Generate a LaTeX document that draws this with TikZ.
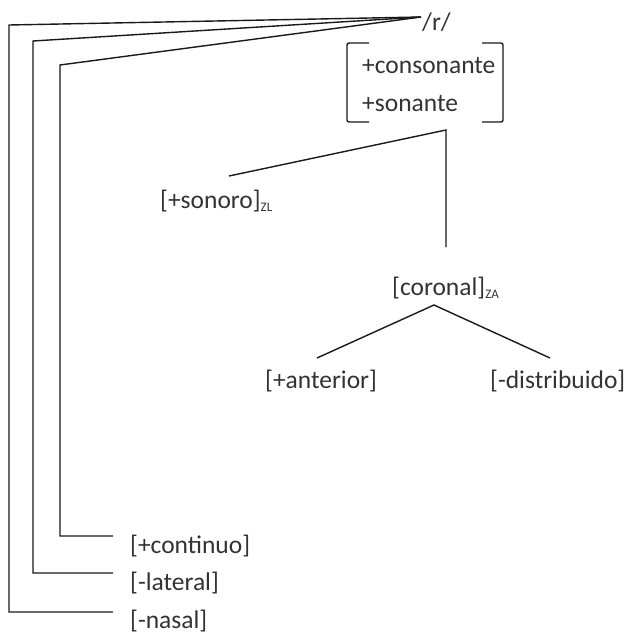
\documentclass[tikz,border=0pt]{standalone}
\usepackage{fontspec}
\setmainfont{Carlito}
\newcommand\featsub[1]{\raisebox{-3pt}{\fontsize{13}{13}\selectfont #1}}
\begin{document}
\begin{tikzpicture}[x=1pt,y=-1pt,
  lbl/.style={font=\fontsize{25.5}{28}\selectfont, inner sep=0pt, anchor=base west, text=black!80},
  ln/.style={line width=1.4pt, draw=black!90},
  brk/.style={line width=1.4pt, draw=black!90, rounded corners=2pt}]
\useasboundingbox (0,0) rectangle (626,635);

% labels
\node[lbl] (r) at (422,30) {/r/};
\node[lbl] (cons) at (362,73) {+consonante};
\node[lbl] (son) at (362,111) {+sonante};
\node[lbl] (sonoro) at (160,208.5) {[+sonoro]\featsub{ZL}};
\node[lbl] (coronal) at (392,295) {[coronal]\featsub{ZA}};
\node[lbl] (ant) at (265,388) {[+anterior]};
\node[lbl] (dist) at (490,388) {[-distribuido]};
\node[lbl] (cont) at (130,553) {[+continuo]};
\node[lbl] (lat) at (130,590.5) {[-lateral]};
\node[lbl] (nas) at (130,628) {[-nasal]};

% brackets
\draw[brk] (369,43) -- (347,43) -- (347,122) -- (369,122);
\draw[brk] (482,43) -- (503,43) -- (503,122) -- (482,122);

% connector points
\coordinate (apex) at (421,17);
\coordinate (c1) at (9,25);
\coordinate (c2) at (33,41);
\coordinate (c3) at (60,65);
\coordinate (nasE) at (113,612);
\coordinate (latE) at (113,573);
\coordinate (contE) at (113,536);
\coordinate (fb) at (446,130);
\coordinate (sonT) at (229,176);
\coordinate (corT) at (446,247);
\coordinate (corB) at (434,305);
\coordinate (antT) at (317,358);
\coordinate (distT) at (550,358);

\draw[ln] (apex) -- (c1) |- (nasE);
\draw[ln] (apex) -- (c2) |- (latE);
\draw[ln] (apex) -- (c3) |- (contE);
\draw[ln] (sonT) -- (fb) -- (corT);
\draw[ln] (antT) -- (corB) -- (distT);
\end{tikzpicture}
\end{document}
